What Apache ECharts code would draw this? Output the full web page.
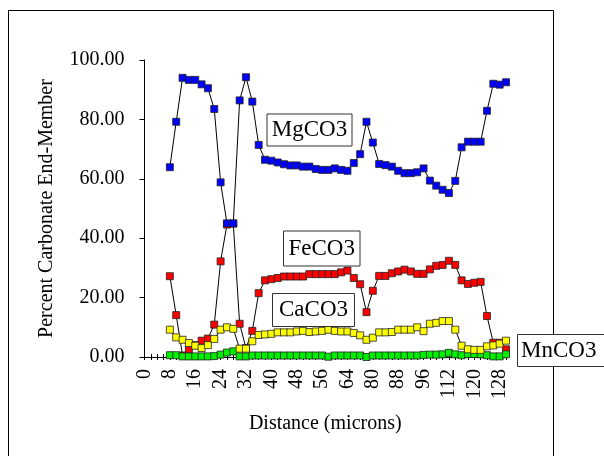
<!DOCTYPE html>
<html>
<head>
<meta charset="utf-8">
<script src="https://cdn.jsdelivr.net/npm/echarts@6/dist/echarts.min.js"></script>
<style>
html,body{margin:0;padding:0;background:#fff;}
#chart{width:604px;height:456px;}
</style>
</head>
<body>
<div id="chart"></div>
<script>
// Category axis (distance in microns) – labels shown every 4th category
var distance = [0,2,4,6,8,10,12,14,16,18,20,22,24,26,28,30,32,34,36,38,40,42,44,46,48,50,52,54,56,58,60,62,64,
  68,72,76,80,82,84,86,88,90,92,94,96,100,104,108,112,114,116,118,120,122,124,126,128,130];
var firstPoint = 4; // data begin at the "8" category

var mgco3 = [63.9,79.2,94.0,93.3,93.3,91.8,90.5,83.5,58.8,45.0,45.0,86.4,94.2,86.0,71.4,66.4,66.1,65.5,64.9,64.5,64.5,64.1,64.1,63.3,63.0,63.0,63.5,63.0,62.7,65.3,68.3,79.2,72.2,65.0,64.6,64.1,62.7,61.9,61.9,62.2,63.5,59.4,57.7,56.3,55.2,59.3,70.6,72.5,72.5,72.5,82.9,92.0,91.7,92.5];
var feco3 = [27.2,14.1,0.5,2.5,4.0,5.5,6.2,10.9,32.2,44.6,44.9,11.2,3.0,8.8,21.5,25.8,26.2,26.6,27.1,27.1,27.1,27.1,27.9,27.9,27.9,27.9,27.9,28.5,29.1,26.6,24.5,15.1,22.3,27.3,27.3,28.2,28.8,29.4,28.8,28.0,28.0,29.5,30.7,31.0,32.4,31.0,25.8,24.6,25.0,25.3,13.8,4.8,4.8,2.6];
var caco3 = [9.2,6.6,5.8,4.7,3.8,3.0,4.0,6.1,9.2,10.0,9.5,2.8,2.8,5.3,7.4,7.6,7.8,8.3,8.3,8.3,8.6,8.8,8.4,8.6,8.8,9.2,8.8,8.6,8.6,8.1,7.3,5.8,6.5,8.3,8.3,8.4,9.2,9.2,9.2,10.0,8.7,11.2,11.5,12.1,12.1,9.2,3.8,2.6,2.4,2.4,3.6,3.9,4.5,5.5];
var mnco3 = [0.6,0.6,0.2,0.2,0.2,0.2,0.2,0.3,0.8,1.5,1.9,0.2,0.2,0.5,0.5,0.5,0.5,0.5,0.5,0.5,0.5,0.5,0.5,0.5,0.5,0.1,0.5,0.5,0.5,0.5,0.5,0.0,0.5,0.5,0.5,0.5,0.5,0.5,0.5,0.5,0.7,0.8,0.8,0.9,1.4,0.9,0.6,1.0,1.0,0.9,0.6,0.2,0.2,0.9];

var yTicks = [0,20,40,60,80,100];

function pad(vals){
  return distance.map(function(d,i){ return i < firstPoint ? null : vals[i-firstPoint]; });
}

var serif = "'Times New Roman','Liberation Serif',serif";

function series(name, vals, fill){
  return {
    name: name, type: 'line', data: pad(vals),
    symbol: 'rect', symbolSize: 7, showAllSymbol: true,
    lineStyle: {color: '#000', width: 1},
    itemStyle: {color: fill, borderColor: '#222', borderWidth: 0.8},
    emphasis: {disabled: true}
  };
}

function box(x, y, w, h, label, tx, align){
  return [
    {type:'rect', shape:{x:x, y:y, width:w, height:h}, style:{fill:'#fff', stroke:'#333', lineWidth:1}, z:10},
    {type:'text', x:tx, y:y+h/2, style:{text:label, font:'23px ' + serif, fill:'#000', textAlign:align, textVerticalAlign:'middle'}, z:11}
  ];
}

var chart = echarts.init(document.getElementById('chart'), null, {renderer:'canvas'});
chart.setOption({
  animation: false,
  backgroundColor: '#fff',
  grid: {left: 144.5, right: 98, top: 60, bottom: 99, containLabel: false},
  xAxis: [{
    type: 'category', data: distance, boundaryGap: false,
    name: 'Distance (microns)', nameLocation: 'middle', nameGap: 57,
    nameTextStyle: {fontFamily: serif, fontSize: 20, color: '#000'},
    axisLine: {lineStyle: {color: '#000', width: 1}},
    axisTick: {interval: 0, length: 3, lineStyle: {color: '#000'}},
    axisLabel: {interval: 3, rotate: 90, margin: 12, fontFamily: serif, fontSize: 20, color: '#000'},
    splitLine: {show: false}
  },{
    type: 'category', data: distance, boundaryGap: false, position: 'bottom',
    axisLine: {show: false},
    axisTick: {interval: 0, inside: true, length: 3, lineStyle: {color: '#000'}},
    axisLabel: {show: false}, splitLine: {show: false}
  }],
  yAxis: {
    type: 'value', min: yTicks[0], max: yTicks[yTicks.length-1], interval: 20,
    name: 'Percent Carbonate End-Member', nameLocation: 'middle', nameGap: 88,
    nameTextStyle: {fontFamily: serif, fontSize: 20, color: '#000'},
    axisLine: {show: true, lineStyle: {color: '#000', width: 1}},
    axisTick: {show: true, length: 5, lineStyle: {color: '#000'}},
    axisLabel: {margin: 20, fontFamily: serif, fontSize: 20, color: '#000',
      formatter: function(v){ return v.toFixed(2); }},
    splitLine: {show: false}
  },
  series: [
    series('FeCO3', feco3, '#ff0000'),
    series('MnCO3', mnco3, '#00ee00'),
    series('CaCO3', caco3, '#ffff00'),
    series('MgCO3', mgco3, '#0000ff')
  ],
  graphic: [].concat(
    [{type:'rect', shape:{x:8.5, y:10.5, width:545, height:460}, style:{fill:'none', stroke:'#000', lineWidth:1}, z:0, silent:true}],
    box(267, 114, 85, 32, 'MgCO3', 309.5, 'center'),
    box(283.5, 231, 76.5, 35, 'FeCO3', 321.7, 'center'),
    box(272.5, 293.5, 82, 33, 'CaCO3', 313.5, 'center'),
    box(517.5, 334.5, 100, 32, 'MnCO3', 521, 'left')
  )
});
</script>
</body>
</html>
